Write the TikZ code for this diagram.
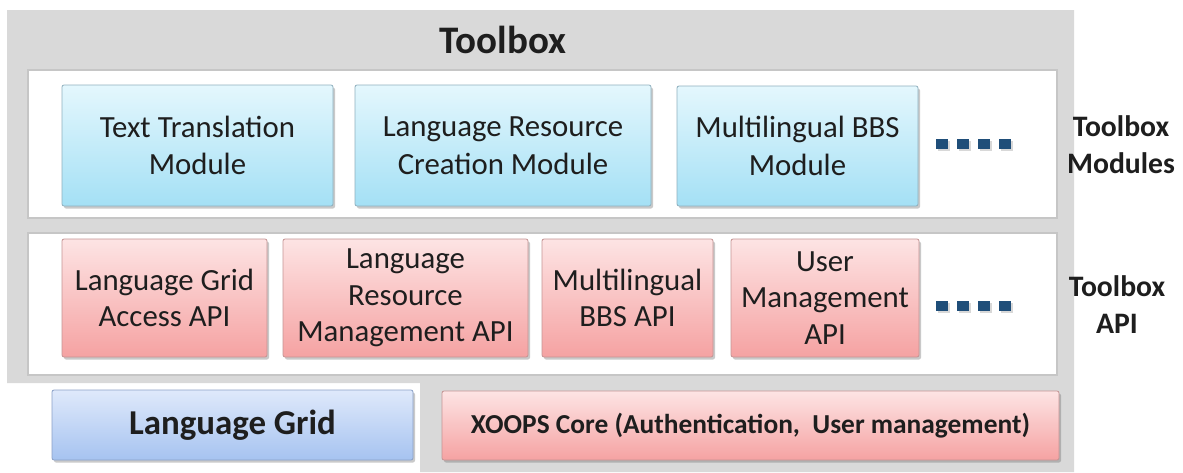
\documentclass[tikz,border=0pt]{standalone}
\usepackage{fontspec}
\setmainfont{Carlito}
\usetikzlibrary{shadows}
\definecolor{bggray}{HTML}{D9D9D9}
\definecolor{panelline}{HTML}{C6C6C6}
\definecolor{modtop}{HTML}{E4F7FD}
\definecolor{modbot}{HTML}{A4E0F5}
\definecolor{modline}{HTML}{8FB0BE}
\definecolor{apitop}{HTML}{FDE4E4}
\definecolor{apibot}{HTML}{F5A2A2}
\definecolor{apiline}{HTML}{C49494}
\definecolor{lgtop}{HTML}{DFE9FB}
\definecolor{lgbot}{HTML}{A6C3F0}
\definecolor{lgline}{HTML}{8AA0C6}
\definecolor{txt}{HTML}{1E1E1E}
\definecolor{dotc}{HTML}{1F4E79}
\tikzset{
  boxbase/.style={rectangle, rounded corners=2pt, line width=0.8pt, align=center,
    text=txt, inner sep=0pt,
    drop shadow={shadow xshift=2pt, shadow yshift=-2.5pt, opacity=0.35, fill=black!60}},
  modbox/.style={boxbase, draw=modline, top color=modtop, bottom color=modbot,
    font=\fontsize{30.8}{37.5}\selectfont},
  apibox/.style={boxbase, draw=apiline, top color=apitop, bottom color=apibot,
    font=\fontsize{30.8}{36.5}\selectfont},
  lgbox/.style={boxbase, draw=lgline, top color=lgtop, bottom color=lgbot,
    font=\bfseries\fontsize{34.9}{40}\selectfont},
  xbox/.style={boxbase, draw=apiline, top color=apitop, bottom color=apibot,
    font=\bfseries\fontsize{27.4}{32}\selectfont},
  panel/.style={fill=white, draw=panelline, line width=1.5pt},
  sidelabel/.style={align=center, text=txt, inner sep=0pt,
    font=\bfseries\fontsize{29.7}{37}\selectfont},
  dotsq/.style={fill=dotc, drop shadow={shadow xshift=1.5pt, shadow yshift=-1.5pt, opacity=0.3, fill=black!50}}
}
\begin{document}
\begin{tikzpicture}[x=1pt,y=-1pt]
\useasboundingbox (0,0) rectangle (1183,472);
% gray background
\fill[bggray] (7,10) -- (1074,10) -- (1074,472) -- (420,472) -- (420,383) -- (7,383) -- cycle;
% panels
\draw[panel] (28,70) rectangle (1057,218);
\draw[panel] (28,233) rectangle (1057,375);
% title
\node[text=txt, font=\bfseries\fontsize{39}{44}\selectfont, inner sep=0pt] (title) at (503,40) {Toolbox};
% modules
\node[modbox, minimum width=271pt, minimum height=121pt] (tt) at (197.5,145.5) {Text Translation\\Module};
\node[modbox, minimum width=296pt, minimum height=121pt] (lrc) at (503,145.5) {Language Resource\\Creation Module};
\node[modbox, minimum width=241pt, minimum height=120pt] (mbbs) at (797.5,146) {Multilingual BBS\\Module};
% API boxes
\node[apibox, minimum width=205pt, minimum height=118pt] (lga) at (164.5,298) {Language Grid\\Access API};
\node[apibox, minimum width=245pt, minimum height=118pt] (lrm) at (405.5,298) {Language\\Resource\\Management API};
\node[apibox, minimum width=171pt, minimum height=118pt] (mba) at (627.5,298) {Multilingual\\BBS API};
\node[apibox, minimum width=188pt, minimum height=118pt] (uma) at (825,298) {User\\Management\\API};
% bottom
\node[lgbox, minimum width=361pt, minimum height=70pt] (lg) at (232.5,425) {Language Grid};
\node[xbox, minimum width=617pt, minimum height=69pt] (xoops) at (750.5,425.5) {XOOPS Core (Authentication,\ \ User management)};
% side labels
\node[sidelabel] (lblmod) at (1121,145) {Toolbox\\Modules};
\node[sidelabel] (lblapi) at (1117,305) {Toolbox\\API};
% dots
\foreach \i in {0,1,2,3} {
  \fill[dotsq] (936+21*\i,139) rectangle ++(12,10);
  \fill[dotsq] (936+21*\i,301) rectangle ++(12,10);
}
\end{tikzpicture}
\end{document}
